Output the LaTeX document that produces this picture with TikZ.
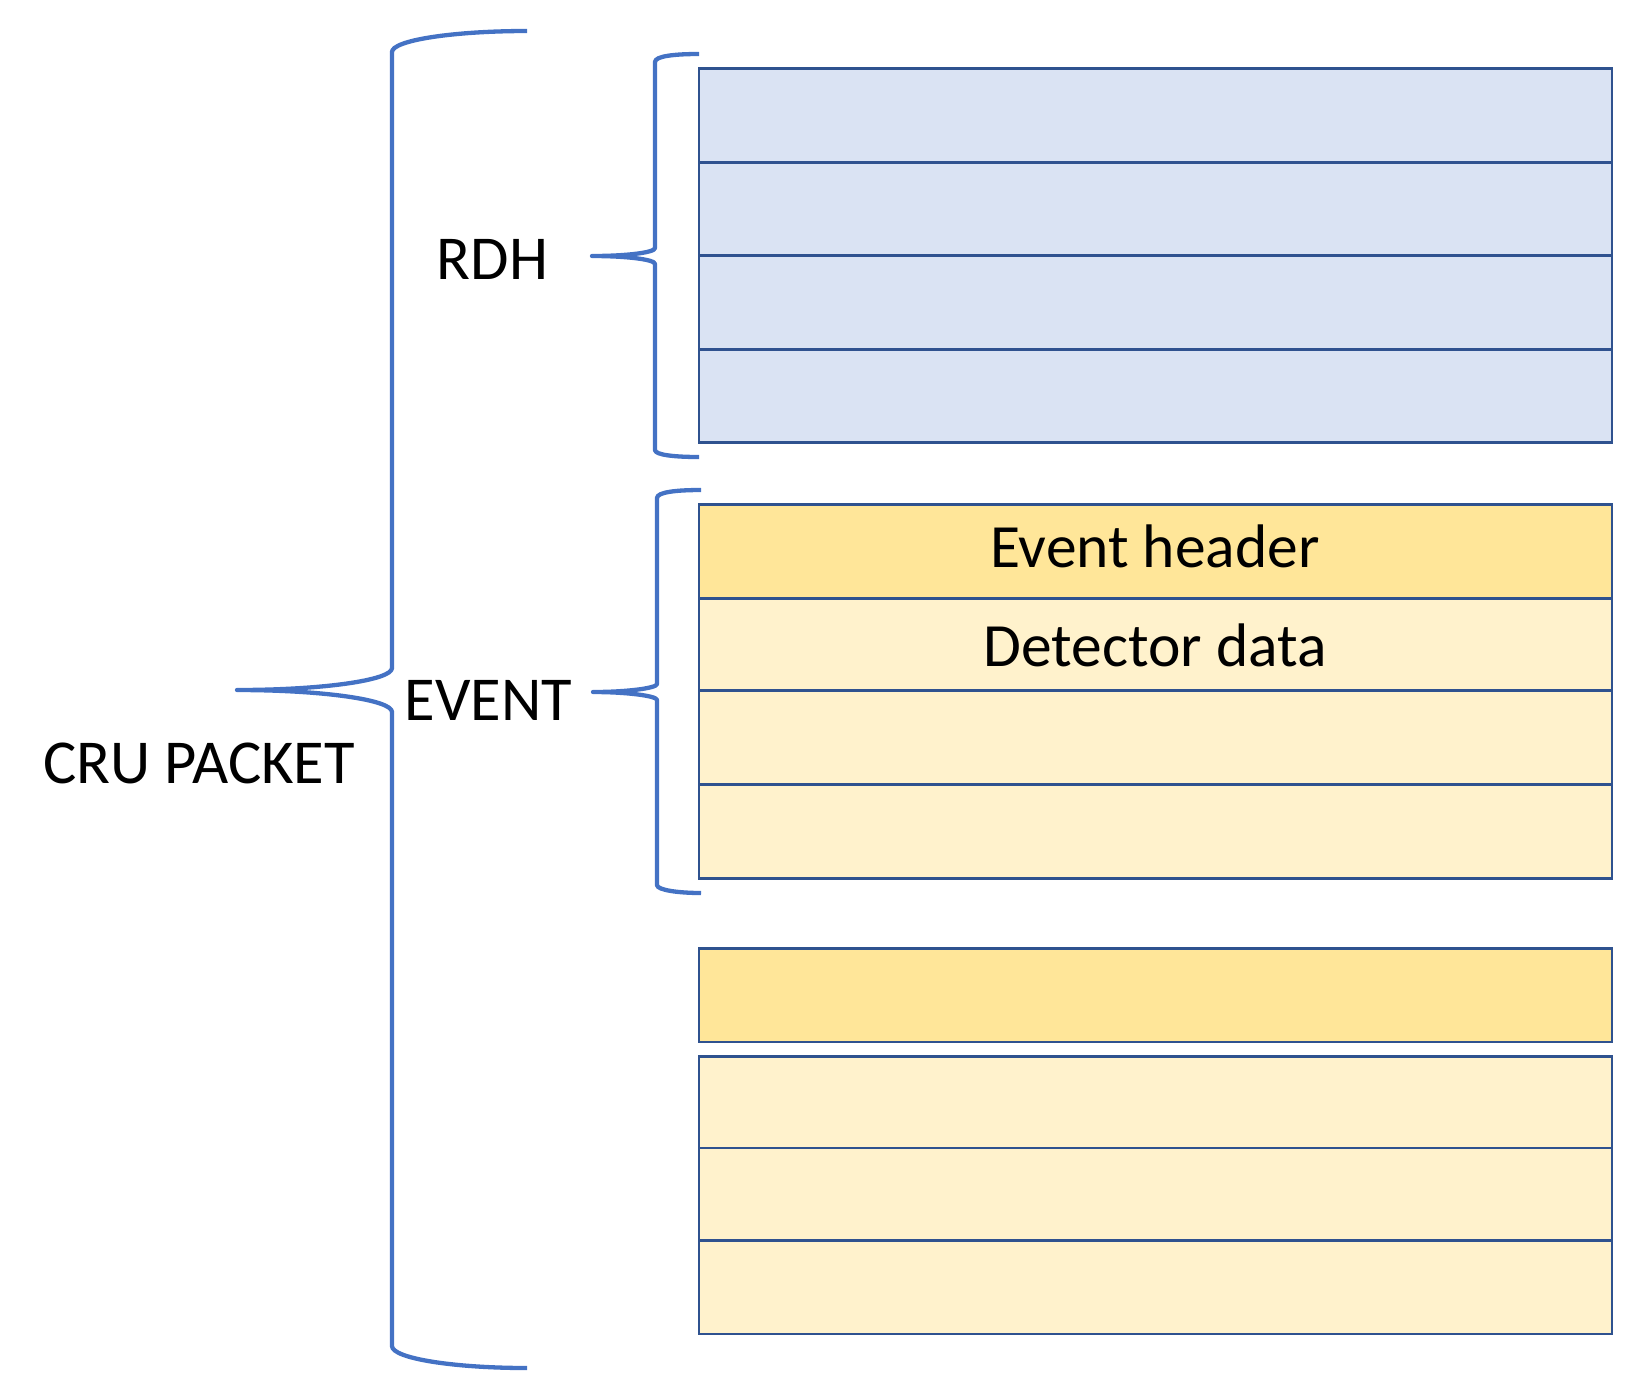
\documentclass[tikz,border=0pt]{standalone}
\usepackage{fontspec}
\setmainfont{Carlito}
\definecolor{edgeblue}{HTML}{2F528F}
\definecolor{braceblue}{HTML}{4472C4}
\definecolor{rdhfill}{HTML}{DAE3F3}
\definecolor{hdrfill}{HTML}{FFE699}
\definecolor{datafill}{HTML}{FFF2CC}
\begin{document}
\begin{tikzpicture}[x=1pt,y=-1pt,
  row/.style={draw=edgeblue, line width=2.9pt, minimum width=913pt, inner sep=0pt, outer sep=0pt, anchor=north west},
  rdhrow/.style={row, fill=rdhfill},
  hdrrow/.style={row, fill=hdrfill},
  datarow/.style={row, fill=datafill},
  bracestyle/.style={draw=braceblue, line width=4.3pt, line join=round},
  biglabel/.style={anchor=base, inner sep=0pt, font=\fontsize{62.5}{74}\selectfont},
  boxlabel/.style={anchor=base, inner sep=0pt, font=\fontsize{61.5}{72}\selectfont}]
\useasboundingbox (0,0) rectangle (1629,1385);

% RDH rows
\node[rdhrow, minimum height=93.5pt] (r1) at (699,68.6) {};
\node[rdhrow, minimum height=93.5pt] (r2) at (699,162.1) {};
\node[rdhrow, minimum height=93.5pt] (r3) at (699,255.6) {};
\node[rdhrow, minimum height=93.5pt] (r4) at (699,349.1) {};

% Event rows
\node[hdrrow, minimum height=93.5pt] (eh) at (699,504.9) {};
\node[datarow, minimum height=92.5pt] (d1) at (699,598.4) {};
\node[datarow, minimum height=93.5pt] (d2) at (699,690.9) {};
\node[datarow, minimum height=94.5pt] (d3) at (699,784.4) {};

% Lower rows
\node[hdrrow, minimum height=93.5pt] (eh2) at (699,948.5) {};
\node[datarow, minimum height=91.4pt] (e1) at (699,1056.6) {};
\node[datarow, minimum height=92.4pt] (e2) at (699,1148) {};
\node[datarow, minimum height=93.6pt] (e3) at (699,1240.4) {};

% Texts
\node[boxlabel] (tEH) at (1155,567.3) {Event header};
\node[boxlabel] (tDD) at (1155,666.7) {Detector data};
\node[biglabel] (tCRU) at (199,783.3) {CRU PACKET};
\node[biglabel] (tRDH) at (492.5,279.3) {RDH};
\node[biglabel] (tEV) at (488.5,720) {EVENT};

% Big brace
\draw[bracestyle] (527,31) .. controls (452.4,31) and (392,40.4) .. (392,52)
  -- (392,668) .. controls (392,680.2) and (322.6,690) .. (237,690)
  .. controls (322.6,690) and (392,699.8) .. (392,712)
  -- (392,1346) .. controls (392,1358.2) and (452.4,1368) .. (527,1368);

% RDH brace
\draw[bracestyle] (699,54) .. controls (675,54) and (655,56) .. (655,62)
  -- (655,248) .. controls (655,252.5) and (627,256) .. (592,256)
  .. controls (627,256) and (655,259.5) .. (655,264)
  -- (655,450) .. controls (655,455) and (675,457) .. (699,457);

% EVENT brace
\draw[bracestyle] (701,490) .. controls (677,490) and (657,492) .. (657,498)
  -- (657,684) .. controls (657,688) and (628,692) .. (593,692)
  .. controls (628,692) and (657,696) .. (657,700)
  -- (657,885) .. controls (657,890) and (678,893) .. (701,893);
\end{tikzpicture}
\end{document}
